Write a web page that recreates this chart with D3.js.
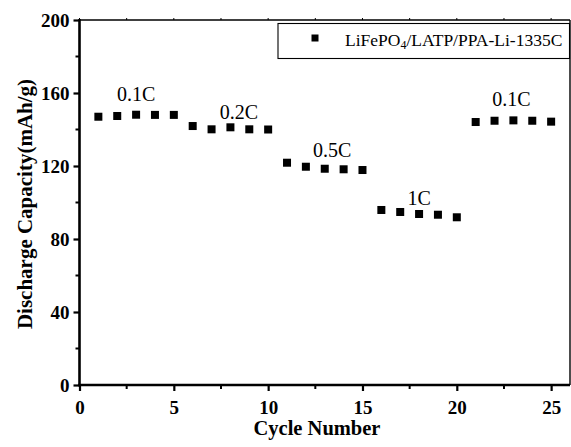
<!DOCTYPE html>
<html>
<head>
<meta charset="utf-8">
<script src="https://cdn.jsdelivr.net/npm/d3@7.9.0/dist/d3.min.js"></script>
<style>
  body { margin: 0; background: #fff; }
  svg { display: block; font-family: "Liberation Serif", "Times New Roman", serif; }
</style>
</head>
<body>
<svg id="chart" width="571" height="447"></svg>
<script>
// Data
const cycles = d3.range(1, 26);
const capacity = [147.0, 147.4, 148.1, 148.0, 148.0,
                  141.9, 140.1, 141.2, 140.1, 140.0,
                  121.8, 119.6, 118.5, 118.2, 117.8,
                  95.9, 94.8, 93.7, 93.3, 91.9,
                  144.1, 144.8, 145.0, 144.8, 144.3];
const rateLabels = ["0.1C", "0.2C", "0.5C", "1C", "0.1C"];
const rateLabelCycle = [3, 8.45, 13.4, 18.0, 22.9];
const rateLabelCap = [155.8, 146, 125, 98.6, 152.9];
const xTicks = [0, 5, 10, 15, 20, 25];
const yTicks = [0, 40, 80, 120, 160, 200];
const seriesName = "LiFePO4/LATP/PPA-Li-1335C";

const svg = d3.select("#chart");
const margin = { top: 20, right: 1, bottom: 62, left: 79.5 };
const W = +svg.attr("width"), H = +svg.attr("height");
const width = W - margin.left - margin.right;
const height = H - margin.top - margin.bottom;

const x = d3.scaleLinear().domain([0, 26]).range([0, width]);
const y = d3.scaleLinear().domain([0, 200]).range([height, 0]);

const g = svg.append("g").attr("transform", `translate(${margin.left},${margin.top})`);

// top & right frame (thin)
g.append("line").attr("x1", 0).attr("x2", width).attr("y1", 0).attr("y2", 0)
  .attr("stroke", "#000").attr("stroke-width", 1.6);
g.append("line").attr("x1", width).attr("x2", width).attr("y1", 0).attr("y2", height)
  .attr("stroke", "#000").attr("stroke-width", 1.4);
// small ticks on the top frame
g.selectAll(".ttick").data(d3.range(0, 26.1, 2.5)).enter().append("line")
  .attr("x1", d => x(d)).attr("x2", d => x(d)).attr("y1", 0).attr("y2", -2)
  .attr("stroke", "#000").attr("stroke-width", 1);

// minor ticks
g.selectAll(".xminor").data(d3.range(2.5, 26, 5)).enter().append("line")
  .attr("x1", d => x(d)).attr("x2", d => x(d)).attr("y1", height).attr("y2", height + 4)
  .attr("stroke", "#000").attr("stroke-width", 2);
g.selectAll(".yminor").data(d3.range(20, 200, 40)).enter().append("line")
  .attr("x1", 0).attr("x2", -4).attr("y1", d => y(d)).attr("y2", d => y(d))
  .attr("stroke", "#000").attr("stroke-width", 2);

// bottom axis
const xAxis = g.append("g").attr("transform", `translate(0,${height})`)
  .call(d3.axisBottom(x).tickValues(xTicks).tickSize(6).tickSizeOuter(0).tickPadding(9));
// left axis
const yAxis = g.append("g")
  .call(d3.axisLeft(y).tickValues(yTicks).tickSize(6).tickSizeOuter(0).tickPadding(4));

[xAxis, yAxis].forEach(a => {
  a.attr("font-family", null);
  a.select(".domain").attr("stroke-width", 2.6);
  a.selectAll(".tick line").attr("stroke-width", 2.2);
  a.selectAll(".tick text")
    .attr("font-weight", "bold").attr("font-size", 19).attr("fill", "#000");
});
xAxis.select(".domain").attr("d", `M-1.3,0H${width}`);
yAxis.select(".domain").attr("d", `M0,-1H0V${height + 1.3}`);
xAxis.selectAll(".tick text").attr("dy", "0.72em");
yAxis.selectAll(".tick text").attr("dy", "0.34em");

// axis titles
svg.append("text")
  .attr("x", 317).attr("y", 435)
  .attr("text-anchor", "middle").attr("font-weight", "bold").attr("font-size", 20.5)
  .text("Cycle Number");
svg.append("text")
  .attr("transform", `translate(32,204) rotate(-90)`)
  .attr("text-anchor", "middle").attr("font-weight", "bold").attr("font-size", 21)
  .text("Discharge Capacity(mAh/g)");

// data markers
const sq = 8;
g.selectAll(".pt").data(cycles).enter().append("rect")
  .attr("x", d => x(d) - sq / 2)
  .attr("y", (d, i) => y(capacity[i]) - sq / 2)
  .attr("width", sq).attr("height", sq).attr("fill", "#000");

// rate annotations
g.selectAll(".rate").data(rateLabels).enter().append("text")
  .attr("x", (d, i) => x(rateLabelCycle[i]))
  .attr("y", (d, i) => y(rateLabelCap[i]))
  .attr("text-anchor", "middle").attr("font-size", 20)
  .text(d => d);

// legend
const legX = 278, legY = 23.5, legW = W - margin.right - 278 - 0.5, legH = 35;
svg.append("rect").attr("x", legX).attr("y", legY).attr("width", legW).attr("height", legH)
  .attr("fill", "#fff").attr("stroke", "#000").attr("stroke-width", 1.1);
svg.append("rect").attr("x", 315 - 3.5).attr("y", 38 - 3.5).attr("width", 7).attr("height", 7)
  .attr("fill", "#000");
const lt = svg.append("text").attr("x", 345).attr("y", 46).attr("font-size", 17.5);
lt.append("tspan").text(seriesName.slice(0, 6));
lt.append("tspan").attr("font-size", 12).attr("baseline-shift", "-25%").text("4");
lt.append("tspan").text(seriesName.slice(7));
</script>
</body>
</html>
